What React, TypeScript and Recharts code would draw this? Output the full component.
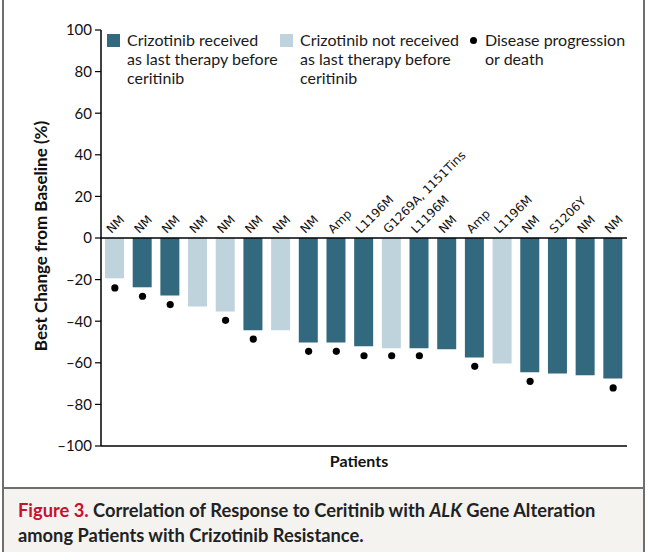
import React from "react";
import {
  ComposedChart,
  Bar,
  Cell,
  Scatter,
  XAxis,
  YAxis,
  ReferenceLine,
  LabelList,
} from "recharts";

// one entry per patient, in the order shown on the chart
const alterations = [
  "NM", "NM", "NM", "NM", "NM", "NM", "NM", "NM", "Amp", "L1196M",
  "G1269A, 1151Tins", "L1196M", "NM", "Amp", "L1196M", "NM", "S1206Y", "NM", "NM",
];
const bestChange = [
  -19.4, -23.7, -27.6, -32.9, -35.3, -44.4, -44.3, -50.2, -50.2, -52.1,
  -53, -53, -53.5, -57.4, -60.3, -64.6, -65.1, -66, -67.5,
];
const progression = [
  -24, -28, -32, null, -39.6, -48.6, null, -54.5, -54.5, -56.6,
  -56.6, -56.6, null, -61.7, null, -68.9, null, null, -72.1,
];
const crizotinibLast = [
  false, true, true, false, false, true, false, true, true, true,
  false, true, true, true, false, true, true, true, true,
];
const yTicks = [-100, -80, -60, -40, -20, 0, 20, 40, 60, 80, 100];

const DARK = "#33697f";
const LIGHT = "#bfd3dc";
const FONT = "Lato, 'Open Sans', sans-serif";

const data = alterations.map((label, i) => ({
  id: i,
  label,
  change: bestChange[i],
  dot: progression[i],
  last: crizotinibLast[i],
}));

function BarTag(props: any) {
  const { x, y, width, height, value } = props;
  const top = Math.min(y, y + height);
  const cx = x + width / 2 - 3;
  const cy = top - 4;
  return (
    <text
      x={cx}
      y={cy}
      transform={`rotate(-45, ${cx}, ${cy})`}
      textAnchor="start"
      fontFamily="'DejaVu Sans', sans-serif"
      fontSize={12}
      fill="#111"
    >
      {value}
    </text>
  );
}

function DotShape(props: any) {
  if (props.payload == null || props.payload.dot == null || props.cy == null) return <g />;
  return <circle cx={props.cx} cy={props.cy} r={3.6} fill="#000" />;
}

export default function App() {
  return (
    <div
      style={{
        position: "absolute",
        left: 0,
        top: 0,
        width: 648,
        height: 552,
        background: "#fff",
        fontFamily: FONT,
        overflow: "hidden",
      }}
    >
      {/* frame */}
      <div style={{ position: "absolute", left: 2, top: 0, width: 2, height: 552, background: "#6e6e6e" }} />
      <div style={{ position: "absolute", left: 643, top: 0, width: 2, height: 552, background: "#6e6e6e" }} />
      <div style={{ position: "absolute", left: 2, top: 487, width: 643, height: 2, background: "#6e6e6e" }} />
      <div style={{ position: "absolute", left: 4, top: 489, width: 639, height: 63, background: "#f5f3ef" }} />

      <div style={{ position: "absolute", left: 0, top: 0 }}>
        <ComposedChart
          width={648}
          height={480}
          data={data}
          margin={{ top: 30, right: 21, bottom: 0, left: 0 }}
        >
          <XAxis
            dataKey="id"
            type="category"
            tick={false}
            tickLine={false}
            axisLine={{ stroke: "#000", strokeWidth: 1.5 }}
            height={34}
            label={() => (
              <text
                x={359}
                y={467}
                textAnchor="middle"
                fontFamily={FONT}
                fontWeight="bold"
                fontSize={16}
                fill="#111"
              >
                Patients
              </text>
            )}
          />
          <YAxis
            type="number"
            domain={[-100, 100]}
            ticks={yTicks}
            width={101}
            interval={0}
            tickSize={6}
            tickMargin={3}
            axisLine={{ stroke: "#000", strokeWidth: 1.5 }}
            tickLine={{ stroke: "#000", strokeWidth: 1.2 }}
            tick={{ fontFamily: FONT, fontSize: 15, fill: "#111" }}
            tickFormatter={(v: number) => (v < 0 ? "\u2013" + Math.abs(v) : String(v))}
            label={() => (
              <text
                x={40}
                y={236}
                transform="rotate(-90, 40, 236)"
                textAnchor="middle"
                dominantBaseline="central"
                fontFamily={FONT}
                fontWeight="bold"
                fontSize={17}
                fill="#111"
              >
                Best Change from Baseline (%)
              </text>
            )}
          />
          <ReferenceLine y={0} stroke="#000" strokeWidth={1.5} />
          <Bar dataKey="change" barSize={19} isAnimationActive={false}>
            {data.map((d) => (
              <Cell key={d.id} fill={d.last ? DARK : LIGHT} />
            ))}
            <LabelList dataKey="label" content={BarTag} />
          </Bar>
          <Scatter dataKey="dot" shape={DotShape} isAnimationActive={false} />
        </ComposedChart>
      </div>

      {/* legend */}
      <div style={{ position: "absolute", left: 107, top: 34, width: 13, height: 13, background: DARK }} />
      <div style={legendText(127)}>
        Crizotinib received
        <br />
        as last therapy before
        <br />
        ceritinib
      </div>
      <div style={{ position: "absolute", left: 280, top: 34, width: 13, height: 13, background: LIGHT }} />
      <div style={legendText(300)}>
        Crizotinib not received
        <br />
        as last therapy before
        <br />
        ceritinib
      </div>
      <div
        style={{
          position: "absolute",
          left: 470,
          top: 37,
          width: 7,
          height: 7,
          borderRadius: "50%",
          background: "#000",
        }}
      />
      <div style={legendText(485)}>
        Disease progression
        <br />
        or death
      </div>

      {/* caption */}
      <div
        style={{
          position: "absolute",
          left: 18,
          top: 498,
          fontFamily: FONT,
          fontWeight: "bold",
          fontSize: 18.3,
          lineHeight: "25px",
          color: "#222",
          whiteSpace: "nowrap",
        }}
      >
        <span style={{ color: "#c8102e" }}>Figure 3.</span> Correlation of Response to Ceritinib
        with <i>ALK</i> Gene Alteration
        <br />
        among Patients with Crizotinib Resistance.
      </div>
    </div>
  );
}

function legendText(left: number): React.CSSProperties {
  return {
    position: "absolute",
    left,
    top: 30,
    fontFamily: FONT,
    fontSize: 16,
    lineHeight: "19px",
    color: "#1a1a1a",
    whiteSpace: "nowrap",
  };
}
